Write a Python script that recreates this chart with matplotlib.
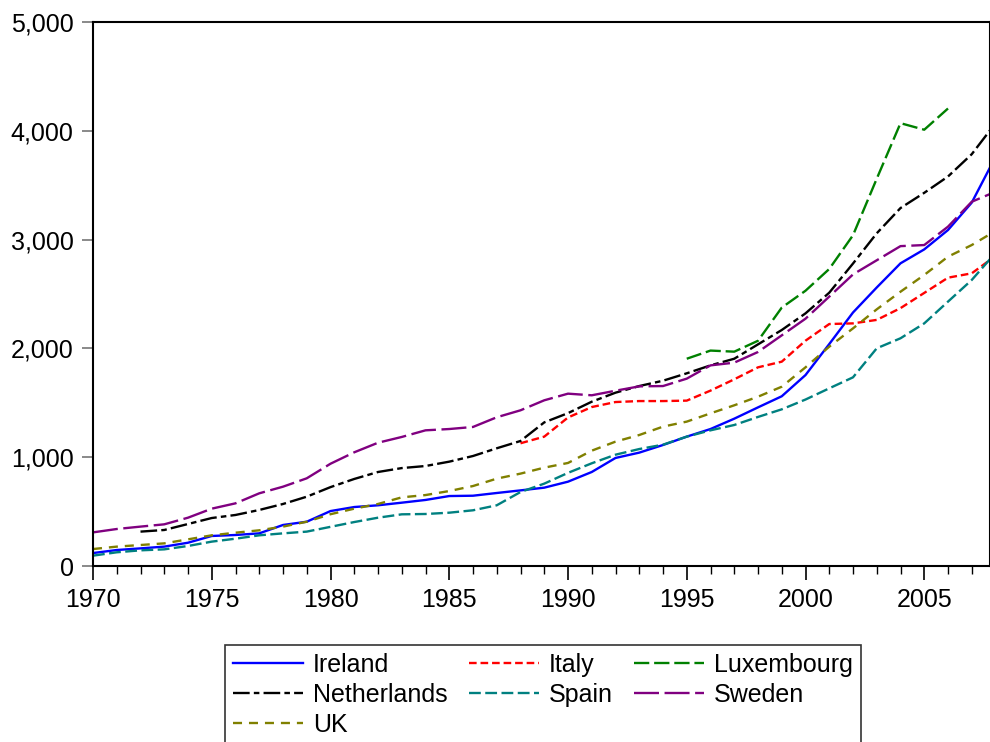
import numpy as np
import matplotlib
matplotlib.use("Agg")
import matplotlib.pyplot as plt
from matplotlib.ticker import FuncFormatter, MultipleLocator

plt.rcParams['font.family'] = ['Liberation Sans', 'DejaVu Sans']
plt.rcParams['lines.scale_dashes'] = False

years = list(range(1970, 2009))
nan = np.nan

ireland = [119, 147, 162, 178, 214, 276, 285, 300, 377, 407,
           505, 542, 558, 582, 607, 643, 646, 671, 695, 720,
           775, 864, 993, 1042, 1112, 1189, 1259, 1354, 1458, 1560,
           1755, 2040, 2330, 2560, 2782, 2910, 3088, 3340, 3760]
italy = [nan] * 18 + [1128, 1189,
         1365, 1461, 1507, 1516, 1516, 1520, 1612, 1716, 1826, 1878,
         2071, 2224, 2230, 2262, 2370, 2510, 2650, 2690, 2850]
luxembourg = [nan] * 25 + [1905, 1980, 1970, 2070, 2375,
              2530, 2730, 3040, 3560, 4070, 4010, 4205, nan, nan]
netherlands = [nan, nan, 316, 331, 386, 441, 469, 515, 570, 637,
               725, 800, 864, 900, 919, 959, 1011, 1082, 1149, 1320,
               1405, 1510, 1593, 1654, 1703, 1771, 1844, 1905, 2037, 2169,
               2322, 2512, 2780, 3058, 3290, 3430, 3580, 3785, 4070]
spain = [95, 126, 144, 153, 184, 224, 251, 282, 300, 316,
         360, 404, 444, 475, 478, 490, 512, 558, 680, 757,
         856, 944, 1023, 1075, 1115, 1189, 1247, 1296, 1370, 1440,
         1530, 1633, 1734, 2001, 2093, 2230, 2430, 2629, 2878]
sweden = [309, 340, 362, 383, 444, 527, 576, 668, 729, 806,
          940, 1045, 1133, 1186, 1247, 1259, 1278, 1367, 1431, 1523,
          1584, 1569, 1611, 1651, 1654, 1722, 1844, 1869, 1967, 2120,
          2273, 2476, 2680, 2810, 2940, 2950, 3119, 3348, 3440]
uk = [156, 178, 193, 208, 245, 282, 306, 328, 362, 407,
      476, 527, 570, 631, 652, 689, 735, 803, 849, 904,
      947, 1060, 1143, 1204, 1281, 1327, 1403, 1477, 1556, 1648,
      1826, 2016, 2184, 2359, 2521, 2675, 2843, 2950, 3080]

series = [
    ("Ireland", ireland, "#0000FF", "-"),
    ("Italy", italy, "#FF0000", (0, (5.5, 2.8))),
    ("Luxembourg", luxembourg, "#008000", (0, (11, 3.5))),
    ("Netherlands", netherlands, "#000000", (0, (12, 3, 4, 3))),
    ("Spain", spain, "#008080", (0, (8.5, 3.2))),
    ("Sweden", sweden, "#800080", (0, (18, 4))),
    ("UK", uk, "#808000", (0, (6.5, 5))),
]

fig = plt.figure(figsize=(9.9, 7.42), dpi=100)
ax = fig.add_axes([93 / 990, 1 - 566 / 742, 1 - 93 / 990, (566 - 22) / 742])

handles = {}
for name, vals, col, ls in series:
    h, = ax.plot(years, vals, color=col, linestyle=ls, linewidth=1.7)
    handles[name] = h

ax.set_xlim(1970, 1970 + (990 - 93) / 23.75)
ax.set_ylim(0, 5000)
ax.set_yticks([0, 1000, 2000, 3000, 4000, 5000])
ax.yaxis.set_major_formatter(FuncFormatter(lambda v, p: f"{int(v):,}"))
ax.set_xticks([1970, 1975, 1980, 1985, 1990, 1995, 2000, 2005])
ax.xaxis.set_minor_locator(MultipleLocator(1))

for s in ax.spines.values():
    s.set_linewidth(1.5)
    s.set_color('black')

ax.tick_params(axis='y', direction='out', length=8, width=1.3, color='#808080',
               labelsize=18, pad=6)
ax.tick_params(axis='x', which='major', direction='out', length=10, width=1.2,
               labelsize=18, pad=6)
ax.tick_params(axis='x', which='minor', direction='out', length=6, width=1.0)

order = ["Ireland", "Netherlands", "UK", "Italy", "Spain", "Luxembourg", "Sweden"]
leg = fig.legend([handles[n] for n in order], order, ncol=3,
                 loc='upper left', bbox_to_anchor=(225 / 990, 1 - 645 / 742),
                 fontsize=18, frameon=True, fancybox=False, edgecolor='black',
                 handlelength=2.8, handletextpad=0.4, columnspacing=0.85,
                 labelspacing=0.24, borderpad=0.32, borderaxespad=0)
leg.get_frame().set_linewidth(1.2)

fig.savefig("out.png", dpi=100)
